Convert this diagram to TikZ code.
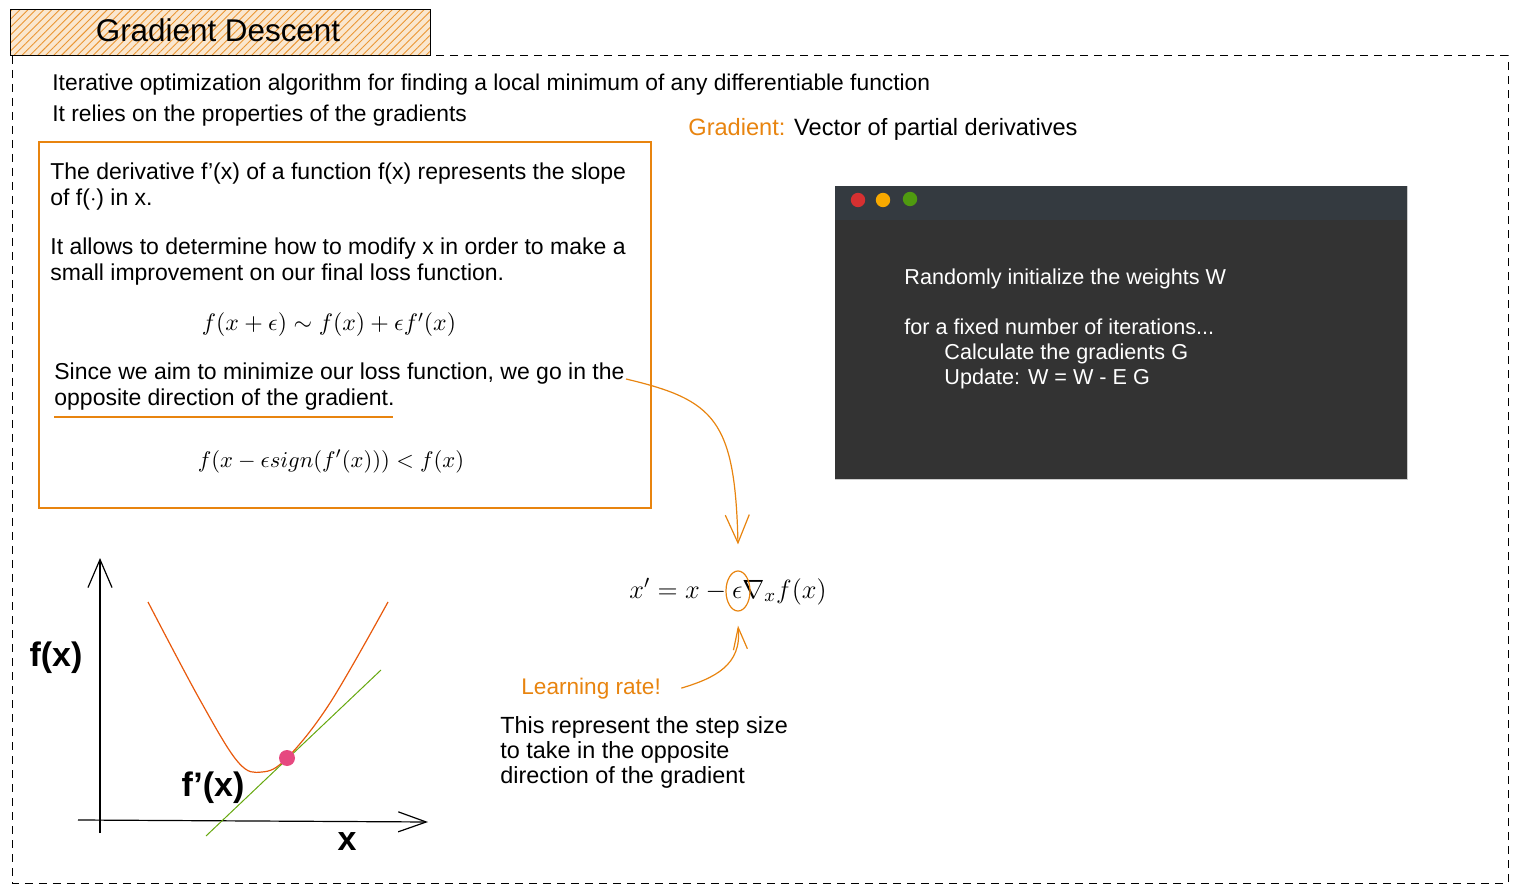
\RequirePackage{fix-cm}
\documentclass[tikz,border=0pt]{standalone}
\usepackage{amsmath,amssymb}
\usepackage{fontspec}
\setmainfont{Liberation Sans}
\usepackage{xcolor}
\usepackage{tikz}
\usetikzlibrary{positioning,arrows.meta,calc,patterns.meta,shapes.geometric}
\definecolor{sketchorange}{HTML}{E8840F}
\definecolor{curvered}{HTML}{E8590C}
\definecolor{tangentgreen}{HTML}{66A80F}
\definecolor{dotpink}{HTML}{E64980}
\definecolor{winbody}{HTML}{333333}
\definecolor{winbar}{HTML}{343A40}
\definecolor{btnred}{HTML}{D63031}
\definecolor{btnyellow}{HTML}{F8A900}
\definecolor{btngreen}{HTML}{4F9A0F}

\begin{document}
\begin{tikzpicture}[
    x=0.5pt, y=-0.5pt,
    txt/.style={anchor=base west, inner sep=0pt, font=\fontsize{11.5}{13}\selectfont},
    wtxt/.style={txt, text=white, font=\fontsize{10.8}{13}\selectfont},
    eq/.style={anchor=base, inner sep=0pt, font=\fontsize{11.9}{14}\selectfont},
    axlabel/.style={anchor=base, inner sep=0pt, font=\fontsize{17}{19}\selectfont\bfseries},
    flow/.style={sketchorange, line width=0.6pt, -{Straight Barb[length=14pt, width=12pt]}},
  ]
  \useasboundingbox (0,0) rectangle (1517,893);
  \draw[dash pattern=on 4pt off 3pt, line width=0.5pt] (12,56) rectangle (1508,883);

  \fill[sketchorange!20] (10,10) rectangle (430,56);
  \fill[pattern={Lines[angle=45, distance=2.8pt, line width=0.45pt]}, pattern color=sketchorange!85] (10,10) rectangle (430,56);
  \draw[line width=0.5pt] (10,10) rectangle (430,56);
  \node[anchor=base, inner sep=0pt, font=\fontsize{15.7}{18}\selectfont] (title) at (218,42) {Gradient Descent};

  \node[txt, font=\fontsize{11.4}{13}\selectfont] (introa) at (52,91) {Iterative optimization algorithm for finding a local minimum of any differentiable function};
  \node[txt, font=\fontsize{11.4}{13}\selectfont] (introb) at (52,122) {It relies on the properties of the gradients};
  \node[txt, font=\fontsize{11.8}{13}\selectfont] (gradlbl) at (688,136) {\textcolor{sketchorange}{Gradient:} Vector of partial derivatives};

  \draw[sketchorange, line width=1.2pt] (39,142) rectangle (651,508);
  \node[txt] (deriva) at (50,180) {The derivative f'(x) of a function f(x) represents the slope};
  \node[txt] (derivb) at (50,206) {of f($\cdot$) in x.};
  \node[txt] (allowa) at (50,255) {It allows to determine how to modify x in order to make a};
  \node[txt] (allowb) at (50,281) {small improvement on our final loss function.};
  \node[eq] (taylor) at (329,331) {$f(x+\epsilon) \sim f(x) + \epsilon f'(x)$};
  \node[txt] (sincea) at (54,380) {Since we aim to minimize our loss function, we go in the};
  \node[txt] (sinceb) at (54,406) {opposite direction of the gradient.};
  \draw[sketchorange, line width=0.8pt] (sinceb.south west) ++(0,-3pt) -- ++(339,0);
  \node[eq, font=\fontsize{11.3}{14}\selectfont] (signeq) at (331,467) {$f(x - \epsilon sign(f'(x))) < f(x)$};

  \fill[winbody] (835,186) rectangle (1407,480);
  \fill[winbar] (835,186) rectangle (1407,220);
  \draw[gray!40, line width=0.5pt] (835,480) -- (1407,480) -- (1407,186);
  \fill[btnred] (858,200) circle (3.6pt);
  \fill[btnyellow] (883,200) circle (3.6pt);
  \fill[btngreen] (910,199) circle (3.6pt);
  \node[wtxt] (init) at (904,285) {Randomly initialize the weights W};
  \node[wtxt] (loop) at (904,335) {for a fixed number of iterations...};
  \node[wtxt] (calc) at (944,360) {Calculate the gradients G};
  \node[wtxt] (update) at (944,385) {Update: W = W - E G};

  \node[eq, font=\fontsize{13.2}{15}\selectfont] (rule) at (728,598) {$x' = x - \epsilon\nabla_x f(x)$};
  \node[ellipse, draw=sketchorange, line width=0.6pt, minimum width=12pt, minimum height=20pt, inner sep=0pt] (eps) at (738,591) {};
  \coordinate (tail) at (626,379);
  \draw[flow] (tail) .. controls (715,400) and (735,420) .. ([yshift=13pt]eps.north);

  \node[txt, text=sketchorange, font=\fontsize{11.3}{13}\selectfont] (lrate) at (521,694) {Learning rate!};
  \draw[flow, -{Straight Barb[length=11pt, width=7pt]}] ([xshift=10pt]lrate.east) .. controls (715,678) and (742,665) .. ([yshift=-7pt]eps.south);
  \node[txt, font=\fontsize{11.7}{13}\selectfont] (stepa) at (500,733) {This represent the step size};
  \node[txt, font=\fontsize{11.7}{13}\selectfont] (stepb) at (500,758) {to take in the opposite};
  \node[txt, font=\fontsize{11.7}{13}\selectfont] (stepc) at (500,783) {direction of the gradient};

  \draw[line width=0.6pt, -{Straight Barb[length=14pt, width=12pt]}] (100,833) -- (100,558);
  \draw[line width=0.6pt, -{Straight Barb[length=14pt, width=10pt]}] (78,820) -- (428,822);
  \node[axlabel] (fx) at (56,666) {f(x)};
  \node[axlabel] (xlbl) at (347,850) {x};
  \node[axlabel] (dfx) at (213,796) {f'(x)};
  \draw[curvered, line width=0.6pt] plot[smooth, tension=0.6] coordinates {(148,602) (200,700) (238,762) (262,772) (287,758) (330,703) (388,602)};
  \draw[tangentgreen, line width=0.5pt] (206,836) -- (381,670);
  \fill[dotpink] (287,758) circle (4pt);
\end{tikzpicture}
\end{document}
